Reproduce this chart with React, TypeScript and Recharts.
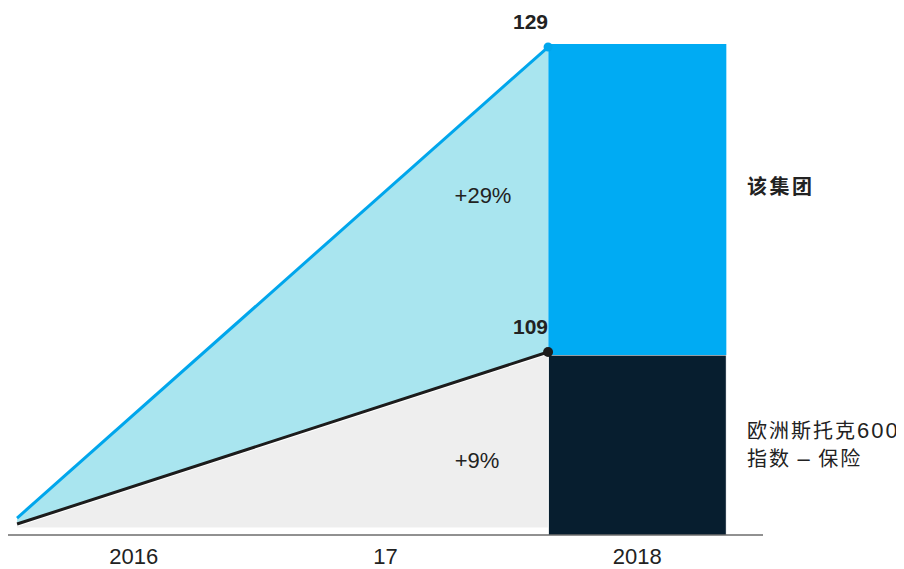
import { ComposedChart, Area, Bar, Line, XAxis, YAxis, LabelList } from 'recharts'

// x positions on a 0..3 axis (three year bands)
const tickPos = [0.5, 1.5, 2.5]
const tickLabels = ['2016', '17', '2018']
const lineX = [0.036, 2.146]
const groupValues = [98.11, 129]
const indexValues = [97.72, 109]
const grayBase = [97.33, 97.33]
const barX = 2.5
const indexBar = [97, 108.8]
const groupBar = [108.8, 129.2]
const endLabels = ['129', '109']

const data = [
  ...lineX.map((x, i) => ({
    x,
    group: groupValues[i],
    index: indexValues[i],
    gray: [grayBase[i], indexValues[i]],
    cyan: [indexValues[i], groupValues[i]],
  })),
  { x: barX, indexBar, groupBar },
]

const endDot = (color: string, r: number) => (p: any) =>
  p.index === lineX.length - 1
    ? <circle key={p.index} cx={p.cx} cy={p.cy} r={r} fill={color} />
    : <g key={p.index} />

const endLabel = (text: string) => (p: any) =>
  p.index === lineX.length - 1 ? (
    <text x={p.x} y={p.y - 18} textAnchor="end" fontSize={21} fontWeight="bold" fill="#222"
      fontFamily="'Liberation Sans', Arial, sans-serif">{text}</text>
  ) : null

const txt = { position: 'absolute' as const, lineHeight: 1, whiteSpace: 'nowrap' as const, color: '#222' }
const latin = { fontFamily: "'Liberation Sans', Arial, sans-serif", fontSize: 22 }

export default function App() {
  return (
    <div style={{ position: 'relative', width: 896, height: 561, fontFamily: "'Liberation Sans', Arial, sans-serif" }}>
      <ComposedChart width={896} height={561} data={data} margin={{ top: 36, right: 141, bottom: 4, left: 0 }}>
        <XAxis
          dataKey="x"
          type="number"
          domain={[0, 3]}
          ticks={tickPos}
          tickFormatter={(v: number) => tickLabels[tickPos.indexOf(v)]}
          tickLine={false}
          tickSize={6}
          tickMargin={7}
          height={30}
          stroke="#222"
          tick={{ fontSize: 22, fill: '#222' }}
        />
        {/* hidden band axes so each bar sits alone in the 2018 band */}
        <XAxis xAxisId="b1" dataKey="x" type="category" hide />
        <XAxis xAxisId="b2" dataKey="x" type="category" hide />
        <YAxis hide domain={[97, 129.2]} />
        <Area dataKey="gray" type="linear" fill="#eeeeee" fillOpacity={1} stroke="#fff" strokeWidth={5} isAnimationActive={false} />
        <Area dataKey="cyan" type="linear" fill="#a9e5ef" fillOpacity={1} stroke="none" isAnimationActive={false} />
        <Bar xAxisId="b1" dataKey="indexBar" barSize={178} fill="#071e2f" stroke="#fff" strokeWidth={1} isAnimationActive={false} />
        <Bar xAxisId="b2" dataKey="groupBar" barSize={178} fill="#00abf3" isAnimationActive={false} />
        <Line dataKey="group" type="linear" stroke="#00a6ec" strokeWidth={3} dot={endDot('#00a6ec', 4.5)} isAnimationActive={false}>
          <LabelList dataKey="group" content={endLabel(endLabels[0])} />
        </Line>
        <Line dataKey="index" type="linear" stroke="#1c1c1c" strokeWidth={3} dot={endDot('#1c1c1c', 5)} isAnimationActive={false}>
          <LabelList dataKey="index" content={endLabel(endLabels[1])} />
        </Line>
      </ComposedChart>
      <div style={{ ...txt, left: 475, top: 177, fontSize: 22, transform: 'translateX(-50%)' }}>+29%</div>
      <div style={{ ...txt, left: 469, top: 442, fontSize: 22, transform: 'translateX(-50%)' }}>+9%</div>
      <div style={{ ...txt, left: 739, top: 168, fontSize: 20, fontWeight: 'bold', letterSpacing: 2.5, fontFamily: "'Noto Sans CJK SC', sans-serif" }}>该集团</div>
      <div style={{ ...txt, left: 739, top: 408, fontSize: 20, lineHeight: '27px', letterSpacing: 2, fontFamily: "'Noto Sans CJK SC', 'Liberation Sans', sans-serif", whiteSpace: 'normal' }}>
        欧洲斯托克<span style={latin}>600</span><br />指数 <span style={latin}>–</span> 保险
      </div>
    </div>
  )
}
